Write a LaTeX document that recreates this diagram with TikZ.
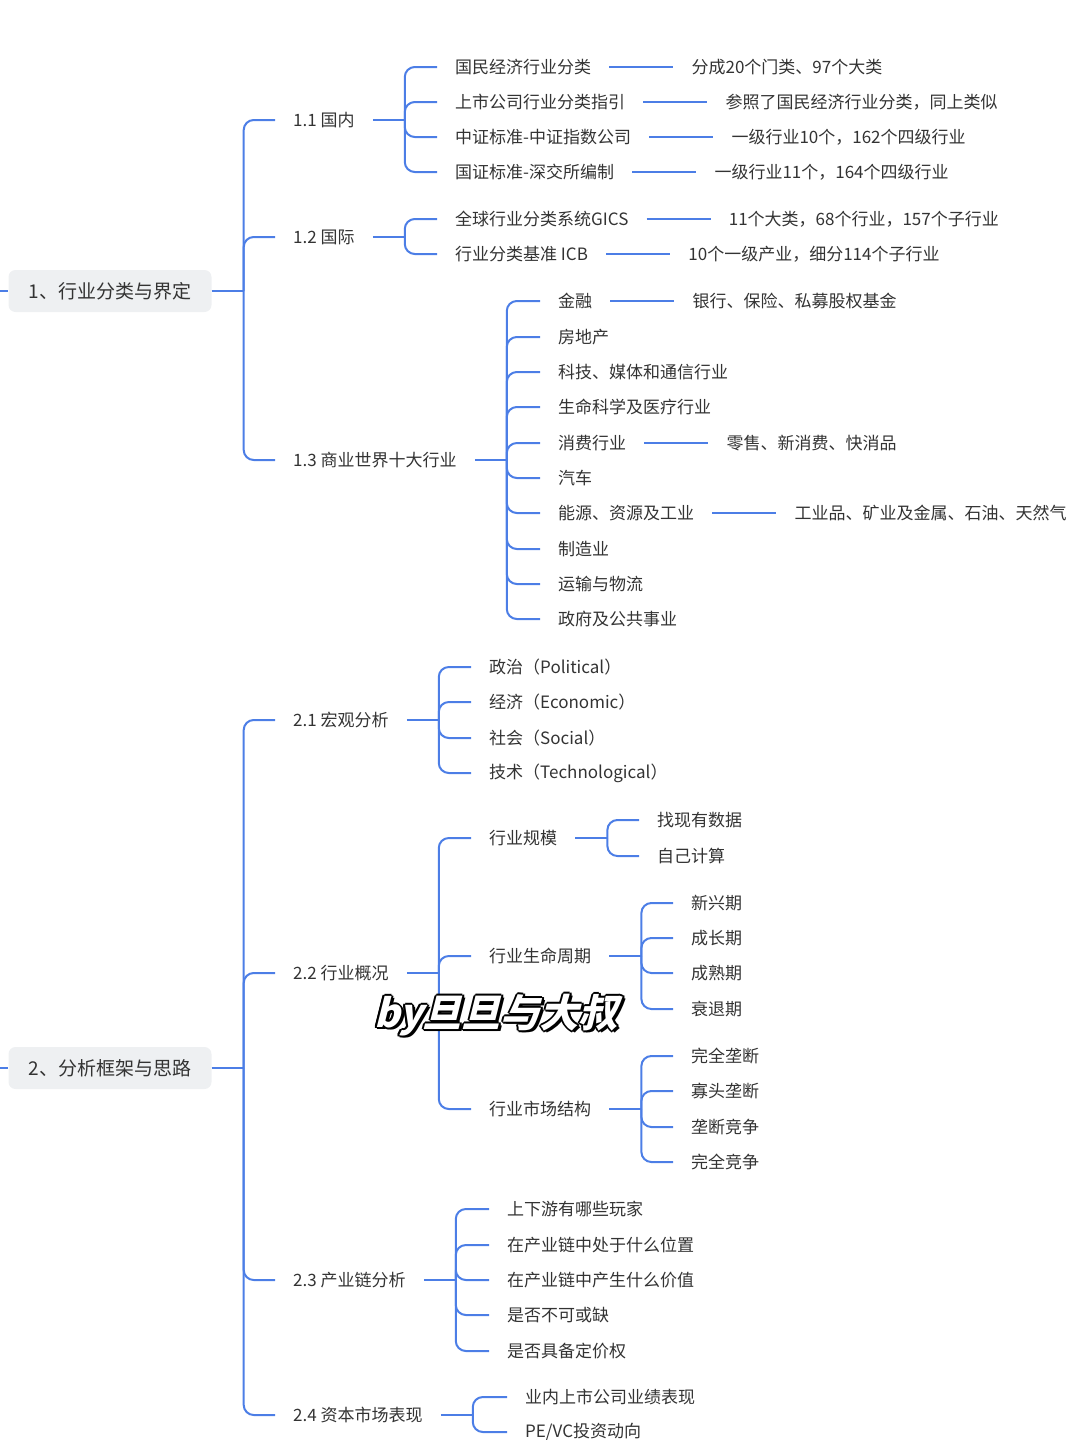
\documentclass[tikz,border=0pt]{standalone}
\usepackage{fontspec}
\setmainfont{Noto Sans CJK SC}
\newfontfamily\wmfont[FakeSlant=0.25]{Noto Sans CJK SC}
\usetikzlibrary{positioning}
\definecolor{linkblue}{HTML}{4C7EE6}
\definecolor{textgray}{HTML}{333333}
\definecolor{rootgray}{HTML}{EEF0F2}

% parent -> junction, then one bent branch per child
\newcommand\fork[2]{%
  \draw[link] (#1.east) -- ++(32,0) coordinate (#1j);
  \foreach \c in {#2} {\draw[link] (#1j) |- (\c.west);}
}

\begin{document}
\begin{tikzpicture}[
  x=1pt, y=-1pt,
  every node/.style={text=textgray},
  link/.style={draw=linkblue, line width=2pt, rounded corners=10pt},
  rootbox/.style={rectangle, rounded corners=7pt, fill=rootgray,
                  minimum width=203pt, minimum height=42pt,
                  font=\fontsize{19}{22}\selectfont},
  topic/.style={anchor=west, inner xsep=18pt, inner ysep=3pt,
                font=\fontsize{17}{20}\selectfont},
  wmark/.style={font=\wmfont\bfseries\fontsize{39}{43}\selectfont}
]
\useasboundingbox (0,0) rectangle (1080,1440);

% ---- 1: classification -------------------------------------------------
\coordinate (in1) at (0,291);
\node[rootbox] (r1) at (110,291) {1、行业分类与界定};
\draw[link] (in1) -- (r1.west);

\node[topic] (p11) at (275,120) {1.1 国内};
\node[topic] (p12) at (275,237) {1.2 国际};
\node[topic] (p13) at (275,460) {1.3 商业世界十大行业};

\node[topic] (a11) at (437,67)  {国民经济行业分类};
\node[topic] (a12) at (437,102) {上市公司行业分类指引};
\node[topic] (a13) at (437,137) {中证标准-中证指数公司};
\node[topic] (a14) at (437,172) {国证标准-深交所编制};
\node[topic, right=64pt of a11] (n11) {分成20个门类、97个大类};
\node[topic, right=64pt of a12] (n12) {参照了国民经济行业分类，同上类似};
\node[topic, right=64pt of a13] (n13) {一级行业10个，162个四级行业};
\node[topic, right=64pt of a14] (n14) {一级行业11个，164个四级行业};

\node[topic] (a21) at (437,219) {全球行业分类系统GICS};
\node[topic] (a22) at (437,254) {行业分类基准 ICB};
\node[topic, right=64pt of a21] (n21) {11个大类，68个行业，157个子行业};
\node[topic, right=64pt of a22] (n22) {10个一级产业，细分114个子行业};

\node[topic] (b1)  at (540,301) {金融};
\node[topic] (b2)  at (540,337) {房地产};
\node[topic] (b3)  at (540,372) {科技、媒体和通信行业};
\node[topic] (b4)  at (540,407) {生命科学及医疗行业};
\node[topic] (b5)  at (540,443) {消费行业};
\node[topic] (b6)  at (540,478) {汽车};
\node[topic] (b7)  at (540,513) {能源、资源及工业};
\node[topic] (b8)  at (540,549) {制造业};
\node[topic] (b9)  at (540,584) {运输与物流};
\node[topic] (b10) at (540,619) {政府及公共事业};
\node[topic, right=64pt of b1] (nb1) {银行、保险、私募股权基金};
\node[topic, right=64pt of b5] (nb5) {零售、新消费、快消品};
\node[topic, right=64pt of b7] (nb7) {工业品、矿业及金属、石油、天然气};

\fork{r1}{p11,p12,p13}
\fork{p11}{a11,a12,a13,a14}
\fork{p12}{a21,a22}
\fork{p13}{b1,b2,b3,b4,b5,b6,b7,b8,b9,b10}
\foreach \s/\t in {a11/n11,a12/n12,a13/n13,a14/n14,a21/n21,a22/n22,b1/nb1,b5/nb5,b7/nb7}
  \draw[link] (\s.east) -- (\t.west);

% ---- 2: framework ------------------------------------------------------
\coordinate (in2) at (0,1068);
\node[rootbox] (r2) at (110,1068) {2、分析框架与思路};
\draw[link] (in2) -- (r2.west);

\node[topic] (p21) at (275,720)  {2.1 宏观分析};
\node[topic] (p22) at (275,973)  {2.2 行业概况};
\node[topic] (p23) at (275,1280) {2.3 产业链分析};
\node[topic] (p24) at (275,1415) {2.4 资本市场表现};

\node[topic] (c11) at (471,667) {政治（Political）};
\node[topic] (c12) at (471,702) {经济（Economic）};
\node[topic] (c13) at (471,738) {社会（Social）};
\node[topic] (c14) at (471,773) {技术（Technological）};

\node[topic] (q1) at (471,838)  {行业规模};
\node[topic] (q2) at (471,956)  {行业生命周期};
\node[topic] (q3) at (471,1109) {行业市场结构};

\node[topic] (q11) at (639,820) {找现有数据};
\node[topic] (q12) at (639,856) {自己计算};
\node[topic] (q21) at (673,903)  {新兴期};
\node[topic] (q22) at (673,938)  {成长期};
\node[topic] (q23) at (673,973)  {成熟期};
\node[topic] (q24) at (673,1009) {衰退期};
\node[topic] (q31) at (673,1056) {完全垄断};
\node[topic] (q32) at (673,1091) {寡头垄断};
\node[topic] (q33) at (673,1127) {垄断竞争};
\node[topic] (q34) at (673,1162) {完全竞争};

\node[topic] (d1) at (489,1209) {上下游有哪些玩家};
\node[topic] (d2) at (489,1245) {在产业链中处于什么位置};
\node[topic] (d3) at (489,1280) {在产业链中产生什么价值};
\node[topic] (d4) at (489,1315) {是否不可或缺};
\node[topic] (d5) at (489,1351) {是否具备定价权};

\node[topic] (e1) at (507,1397) {业内上市公司业绩表现};
\node[topic] (e2) at (507,1432) {PE/VC投资动向};

\fork{r2}{p21,p22,p23,p24}
\fork{p21}{c11,c12,c13,c14}
\fork{p22}{q1,q2,q3}
\fork{q1}{q11,q12}
\fork{q2}{q21,q22,q23,q24}
\fork{q3}{q31,q32,q33,q34}
\fork{p23}{d1,d2,d3,d4,d5}
\fork{p24}{e1,e2}

% ---- watermark ---------------------------------------------------------
\node[wmark, text=black] (wmshadow) at (499,1017) {by旦旦与大叔};
\foreach \a in {0,45,...,315}
  \node[wmark, text=black, shift={(\a:2)}] (wm\a) at (496,1015) {by旦旦与大叔};
\node[wmark, text=white] (wm) at (496,1015) {by旦旦与大叔};
\end{tikzpicture}
\end{document}
